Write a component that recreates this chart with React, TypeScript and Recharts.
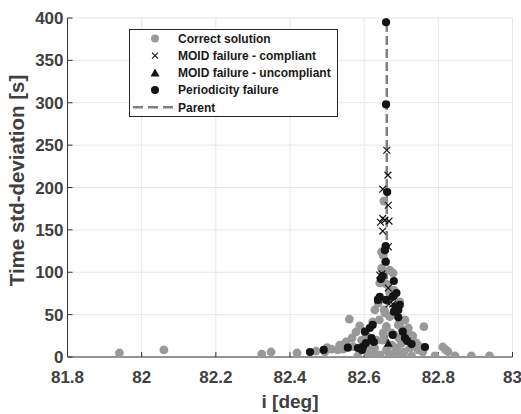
import React from 'react';
import { ScatterChart, Scatter, XAxis, YAxis, CartesianGrid } from 'recharts';

const X_TICKS = [81.8, 82, 82.2, 82.4, 82.6, 82.8, 83];
const Y_TICKS = [0, 50, 100, 150, 200, 250, 300, 350, 400];

const correctX = [81.94, 82.06, 82.324, 82.349, 82.419, 82.47, 82.494, 82.5, 82.512, 82.529, 82.534, 82.543, 82.551, 82.56, 82.567, 82.57, 82.578, 82.583, 82.588, 82.593, 82.6, 82.606, 82.609, 82.615, 82.623, 82.623, 82.628, 82.629, 82.633, 82.637, 82.638, 82.641, 82.642, 82.642, 82.647, 82.647, 82.649, 82.651, 82.651, 82.653, 82.654, 82.656, 82.656, 82.658, 82.66, 82.66, 82.664, 82.666, 82.667, 82.669, 82.669, 82.669, 82.672, 82.674, 82.675, 82.678, 82.68, 82.681, 82.683, 82.686, 82.689, 82.692, 82.694, 82.696, 82.698, 82.7, 82.701, 82.703, 82.705, 82.707, 82.71, 82.715, 82.719, 82.72, 82.723, 82.728, 82.731, 82.741, 82.745, 82.75, 82.758, 82.761, 82.791, 82.812, 82.82, 82.826, 82.845, 82.889, 82.938];
const correctY = [4.7, 8.3, 3.5, 5.9, 4.7, 7, 5.9, 11, 9.4, 8.3, 14, 9.4, 17.7, 44.8, 22.4, 12.2, 29.5, 1, 36.6, 20, 14, 26, 5.9, 8.3, 41.3, 2.4, 10.6, 55.5, 20, 1.5, 63.7, 43.7, 87.3, 2.4, 124, 104.7, 20, 120, 28.3, 184, 55.5, 52, 87, 112, 35.8, 8.3, 85, 4, 67.3, 47.6, 75.5, 102.6, 1.5, 28.3, 14, 99, 79, 26, 4.7, 53, 10.6, 37.8, 22.4, 65, 41, 2.5, 16.5, 31.9, 1, 5.9, 43.7, 20, 34.2, 28.3, 10.6, 1, 24.8, 16.5, 8.3, 12.2, 5.9, 35.8, 1.2, 11.8, 8.3, 6.3, 1.2, 1.2, 1.2];

const moidCompliantX = [82.661, 82.664, 82.65, 82.665, 82.65, 82.656, 82.667, 82.644, 82.65, 82.665, 82.648, 82.642, 82.665, 82.638, 82.667, 82.677];
const moidCompliantY = [244, 214.6, 198, 179, 163.5, 161.5, 160.4, 159, 148.6, 130, 98, 96.8, 81.4, 67.3, 62.5, 62.5];

const moidUncompliantX = [82.665];
const moidUncompliantY = [16.2];

const periodicityX = [82.659, 82.659, 82.662, 82.658, 82.656, 82.658, 82.65, 82.645, 82.68, 82.68, 82.642, 82.637, 82.659, 82.677, 82.687, 82.696, 82.685, 82.692, 82.68, 82.692, 82.623, 82.615, 82.602, 82.704, 82.677, 82.62, 82.71, 82.716, 82.626, 82.605, 82.728, 82.597, 82.764, 82.556, 82.583, 82.594, 82.491, 82.454];
const periodicityY = [395, 298, 194.7, 131, 126, 112.4, 95.6, 92, 89.7, 72.3, 71, 67.3, 67.3, 71, 75.5, 61.4, 59.4, 55.5, 53.5, 46.8, 37.8, 34.2, 29.9, 29.9, 26, 22.4, 22.4, 19, 17.7, 16.5, 15.3, 12.2, 11.8, 11, 10.6, 8.3, 8.3, 5.9];

const parentX = [82.661, 82.661];
const parentY = [0, 400];

const zip = (xs: number[], ys: number[]) => xs.map((x, i) => ({ x, y: ys[i] }));

const correctData = zip(correctX, correctY);
const compliantData = zip(moidCompliantX, moidCompliantY);
const uncompliantData = zip(moidUncompliantX, moidUncompliantY);
const periodicityData = zip(periodicityX, periodicityY);
const parentData = zip(parentX, parentY);

const FONT = '"Liberation Sans", Arial, Helvetica, sans-serif';
const AXIS_COLOR = '#333333';
const TEXT_COLOR = '#404040';
const GRAY = '#999999';
const BLACK = '#141414';

const GrayDot = (p: any) => <circle cx={p.cx} cy={p.cy} r={4.4} fill={GRAY} />;
const BlackDot = (p: any) => <circle cx={p.cx} cy={p.cy} r={4.1} fill={BLACK} />;
const XMark = (p: any) => (
  <g stroke={BLACK} strokeWidth={1.2}>
    <line x1={p.cx - 3.4} y1={p.cy - 3.4} x2={p.cx + 3.4} y2={p.cy + 3.4} />
    <line x1={p.cx - 3.4} y1={p.cy + 3.4} x2={p.cx + 3.4} y2={p.cy - 3.4} />
  </g>
);
const Tri = (p: any) => (
  <polygon points={`${p.cx},${p.cy - 4.5} ${p.cx - 4.5},${p.cy + 3.5} ${p.cx + 4.5},${p.cy + 3.5}`} fill={BLACK} />
);
const NoShape = () => <g />;

const legendRows = ['Correct solution', 'MOID failure - compliant', 'MOID failure - uncompliant', 'Periodicity failure', 'Parent'];

const LegendBox = () => {
  const rowY = (i: number) => 8.5 + 17.2 * i;
  const mx = 25;
  return (
    <div
      style={{
        position: 'absolute',
        left: 129,
        top: 29,
        width: 209,
        height: 88,
        boxSizing: 'border-box',
        border: '1px solid #262626',
        background: '#fff',
      }}
    >
      <svg width={207} height={86} style={{ display: 'block' }}>
        <circle cx={mx} cy={rowY(0)} r={4} fill={GRAY} />
        <g stroke={BLACK} strokeWidth={1.1}>
          <line x1={mx - 3} y1={rowY(1) - 3} x2={mx + 3} y2={rowY(1) + 3} />
          <line x1={mx - 3} y1={rowY(1) + 3} x2={mx + 3} y2={rowY(1) - 3} />
        </g>
        <polygon points={`${mx},${rowY(2) - 4.5} ${mx - 4.5},${rowY(2) + 3.5} ${mx + 4.5},${rowY(2) + 3.5}`} fill={BLACK} />
        <circle cx={mx} cy={rowY(3)} r={4} fill={BLACK} />
        <line x1={3} y1={rowY(4)} x2={43} y2={rowY(4)} stroke="#808080" strokeWidth={2.5} strokeDasharray="10 5" />
        {legendRows.map((t, i) => (
          <text key={t} x={48} y={rowY(i) + 4.3} fontFamily={FONT} fontWeight="bold" fontSize={12} fill="#1a1a1a">
            {t}
          </text>
        ))}
      </svg>
    </div>
  );
};

export default function App() {
  const tickStyle = { fill: TEXT_COLOR, fontSize: 17, fontWeight: 'bold', fontFamily: FONT };
  return (
    <div style={{ position: 'absolute', left: 0, top: 0, width: 521, height: 414, background: '#fff' }}>
      <ScatterChart width={521} height={414} margin={{ top: 18, right: 8.5, bottom: 0, left: 7.5 }}>
        <CartesianGrid stroke="#e6e6e6" strokeWidth={1} />
        <XAxis
          dataKey="x"
          type="number"
          domain={[81.8, 83]}
          ticks={X_TICKS}
          interval={0}
          height={57}
          tickSize={-5}
          tickMargin={19}
          stroke={AXIS_COLOR}
          tick={tickStyle}
          allowDataOverflow
          label={{ value: 'i [deg]', position: 'center', dy: 15.5, fill: TEXT_COLOR, fontSize: 19, fontWeight: 'bold', fontFamily: FONT }}
        />
        <YAxis
          dataKey="y"
          type="number"
          domain={[0, 400]}
          ticks={Y_TICKS}
          interval={0}
          width={60}
          tickSize={-5}
          tickMargin={9}
          stroke={AXIS_COLOR}
          tick={tickStyle}
          allowDataOverflow
          label={{ value: 'Time std-deviation [s]', angle: -90, position: 'center', dx: -21, dy: -7, fill: TEXT_COLOR, fontSize: 20.5, fontWeight: 'bold', fontFamily: FONT }}
        />
        <XAxis
          xAxisId="top"
          orientation="top"
          type="number"
          domain={[81.8, 83]}
          ticks={X_TICKS}
          interval={0}
          height={0}
          tickSize={-5}
          tick={false}
          stroke={AXIS_COLOR}
        />
        <YAxis
          yAxisId="right"
          orientation="right"
          type="number"
          domain={[0, 400]}
          ticks={Y_TICKS}
          interval={0}
          width={0}
          tickSize={-5}
          tick={false}
          stroke={AXIS_COLOR}
        />
        <Scatter
          data={parentData}
          isAnimationActive={false}
          fill="#808080"
          line={{ stroke: '#808080', strokeWidth: 2.5, strokeDasharray: '9 4' }}
          shape={NoShape}
        />
        <Scatter data={correctData} isAnimationActive={false} fill={GRAY} shape={GrayDot} />
        <Scatter data={compliantData} isAnimationActive={false} fill={BLACK} shape={XMark} />
        <Scatter data={uncompliantData} isAnimationActive={false} fill={BLACK} shape={Tri} />
        <Scatter data={periodicityData} isAnimationActive={false} fill={BLACK} shape={BlackDot} />
      </ScatterChart>
      <LegendBox />
    </div>
  );
}
